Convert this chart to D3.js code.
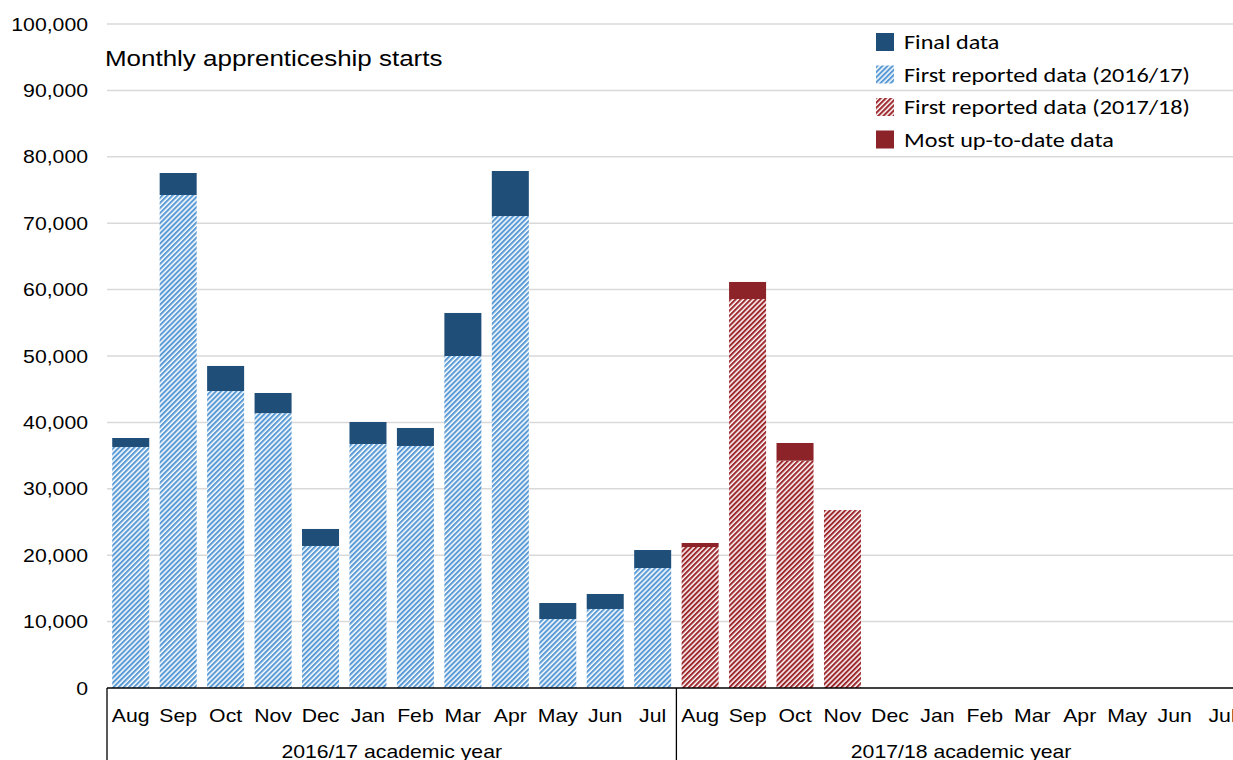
<!DOCTYPE html>
<html><head><meta charset="utf-8">
<script src="https://cdn.jsdelivr.net/npm/d3@7"></script>
<style>body{margin:0;background:#fff;overflow:hidden}svg{display:block}</style>
</head><body><svg id="c" width="1233" height="760"></svg>
<script>
const months = ["Aug","Sep","Oct","Nov","Dec","Jan","Feb","Mar","Apr","May","Jun","Jul"];
const years = ["2016/17 academic year","2017/18 academic year"];
// 2016/17: first reported and final totals
const first1617 = [36300,74250,44730,41400,21390,36750,36450,50000,71080,10390,11900,18070];
const final1617 = [37650,77560,48500,44430,23950,40060,39160,56480,77860,12800,14160,20780];
// 2017/18: first reported and most up-to-date totals
const first1718 = [21230,58580,34230,26800];
const latest1718 = [21840,61150,36900,26800];
const yTicks = [0,10000,20000,30000,40000,50000,60000,70000,80000,90000,100000];
const legendLabels = ["Final data","First reported data (2016/17)","First reported data (2017/18)","Most up-to-date data"];

(function(){
const svg = d3.select("#c");
const defs = svg.append("defs");
function hatch(id, color){
  const p = defs.append("pattern").attr("id",id).attr("patternUnits","userSpaceOnUse")
    .attr("width",3.6).attr("height",3.6).attr("patternTransform","rotate(45)");
  p.append("rect").attr("width",3.6).attr("height",3.6).attr("fill","#fff");
  p.append("rect").attr("width",2.1).attr("height",3.6).attr("fill",color);
}
hatch("hb","#5B9BD5");
hatch("hr","#9E2A2F");
const C = {final:"#1F4E79", latest:"#8B2328"};
const SX = 1.18;
const AR = "Liberation Sans, Arial, sans-serif";

function txt(sel, x, y, s, size, anchor, family){
  return sel.append("text").attr("transform",`translate(${x},${y}) scale(${SX},1)`)
    .attr("text-anchor",anchor||"start").attr("font-family",family||AR)
    .attr("font-size",size).attr("fill","#000").text(s);
}

const left = 107, bandW = 47.45, plotTop = 24, plotBottom = 688;
const cats = [];
years.forEach((yr,i)=>months.forEach(m=>cats.push(i+"-"+m)));
const x = d3.scaleBand().domain(cats).range([left, left+bandW*24]).paddingInner(0.22).paddingOuter(0.11);
const y = d3.scaleLinear().domain([0,100000]).range([plotBottom, plotTop]);

svg.append("g").selectAll("line").data(yTicks.slice(1)).join("line")
  .attr("x1",left).attr("x2",1233).attr("y1",d=>y(d)).attr("y2",d=>y(d))
  .attr("stroke","#d9d9d9").attr("stroke-width",1.5);

const gy = svg.append("g");
yTicks.forEach(t=>txt(gy, 88, y(t)+6.5, d3.format(",")(t), 18, "end"));

const d1 = months.map((m,i)=>({k:"0-"+m, f:first1617[i], t:final1617[i]}));
const d2 = first1718.map((v,i)=>({k:"1-"+months[i], f:v, t:latest1718[i]}));
const g = svg.append("g");
g.selectAll(".f1").data(d1).join("rect").attr("x",d=>x(d.k)).attr("width",x.bandwidth())
  .attr("y",d=>y(d.f)).attr("height",d=>y(0)-y(d.f)).attr("fill","url(#hb)");
g.selectAll(".t1").data(d1).join("rect").attr("x",d=>x(d.k)).attr("width",x.bandwidth())
  .attr("y",d=>y(d.t)).attr("height",d=>y(d.f)-y(d.t)).attr("fill",C.final);
g.selectAll(".f2").data(d2).join("rect").attr("x",d=>x(d.k)).attr("width",x.bandwidth())
  .attr("y",d=>y(d.f)).attr("height",d=>y(0)-y(d.f)).attr("fill","url(#hr)");
g.selectAll(".t2").data(d2).join("rect").attr("x",d=>x(d.k)).attr("width",x.bandwidth())
  .attr("y",d=>y(d.t)).attr("height",d=>Math.max(0,y(d.f)-y(d.t))).attr("fill",C.latest);

const ax = svg.append("g").attr("stroke","#000").attr("stroke-width",1.3);
ax.append("line").attr("x1",left).attr("x2",1233).attr("y1",plotBottom).attr("y2",plotBottom);
[0,12].forEach(i=>{
  ax.append("line").attr("x1",left+bandW*i).attr("x2",left+bandW*i).attr("y1",plotBottom).attr("y2",760);
});

const gm = svg.append("g");
cats.forEach(c=>txt(gm, x(c)+x.bandwidth()/2, 722, c.split("-")[1], 18, "middle"));
years.forEach((yr,i)=>txt(gm, left+bandW*(12*i+6), 758, yr, 18, "middle"));

txt(svg, 105, 66, "Monthly apprenticeship starts", 22, "start");

const fills = [C.final,"url(#hb)","url(#hr)",C.latest];
const lg = svg.append("g");
legendLabels.forEach((l,i)=>{
  const yy = 33 + i*32.5;
  lg.append("rect").attr("x",876).attr("y",yy).attr("width",18).attr("height",18).attr("fill",fills[i]);
  txt(lg, 904, yy+16, l, 20.5, "start", "Carlito, Lato, sans-serif");
});
})();
</script></body></html>
